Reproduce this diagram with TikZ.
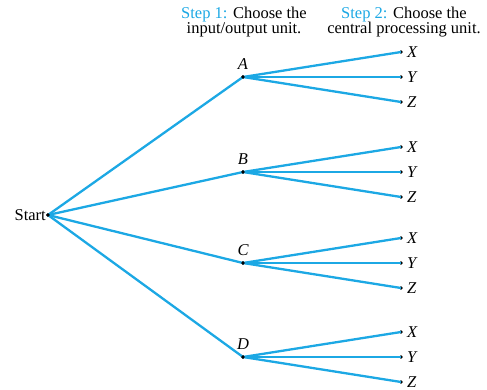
\documentclass[tikz,border=0pt]{standalone}
\usepackage{fontspec}
\setmainfont{Liberation Serif}
\usepackage{xcolor}
\definecolor{treeblue}{RGB}{28,168,228}
\usepackage{tikz}
\usetikzlibrary{positioning}

\begin{document}
\begin{tikzpicture}[x=1pt, y=-1pt,
  dot/.style={circle, fill=black, inner sep=0pt, minimum size=3.6pt},
  branch/.style={draw=treeblue, line width=2.3pt},
  lbl/.style={font=\fontsize{16.5}{16}\selectfont\itshape, inner sep=1pt},
  hdr/.style={font=\fontsize{16.5}{15}\selectfont, align=center, inner sep=0pt}
]
\useasboundingbox (0,0) rectangle (487,390);

% headers
\node[hdr] (step1) at (244,22) {\textcolor{treeblue}{Step 1:} Choose the\\input/output unit.};
\node[hdr] (step2) at (404,22) {\textcolor{treeblue}{Step 2:} Choose the\\central processing unit.};

% start
\node[dot, label={[lbl, font=\fontsize{16.5}{16}\selectfont, label distance=-1pt]left:Start}] (start) at (48,215) {};

% step 1: input/output units
\node[dot, label={[lbl, label distance=4pt]above:A}] (a) at (243,77) {};
\node[dot, label={[lbl, label distance=4pt]above:B}] (b) at (243,172) {};
\node[dot, label={[lbl, label distance=4pt]above:C}] (c) at (243,263) {};
\node[dot, label={[lbl, label distance=4pt]above:D}] (d) at (243,357) {};

\foreach \u in {a,b,c,d}
  \draw[branch] (start.center) -- (\u.center);

% step 2: central processing units
\foreach \u/\y in {a/77, b/172, c/263, d/357} {
  \node[dot, label={[lbl, label distance=3pt]right:X}] (\u x) at (401,\y-25) {};
  \node[dot, label={[lbl, label distance=3pt]right:Y}] (\u y) at (401,\y) {};
  \node[dot, label={[lbl, label distance=3pt]right:Z}] (\u z) at (401,\y+25) {};
  \draw[branch] (\u.center) -- (\u x.center);
  \draw[branch] (\u.center) -- (\u y.center);
  \draw[branch] (\u.center) -- (\u z.center);
}

% dots on top of the lines
\foreach \n in {start,a,b,c,d}
  \fill (\n) circle (1.8pt);
\end{tikzpicture}
\end{document}
